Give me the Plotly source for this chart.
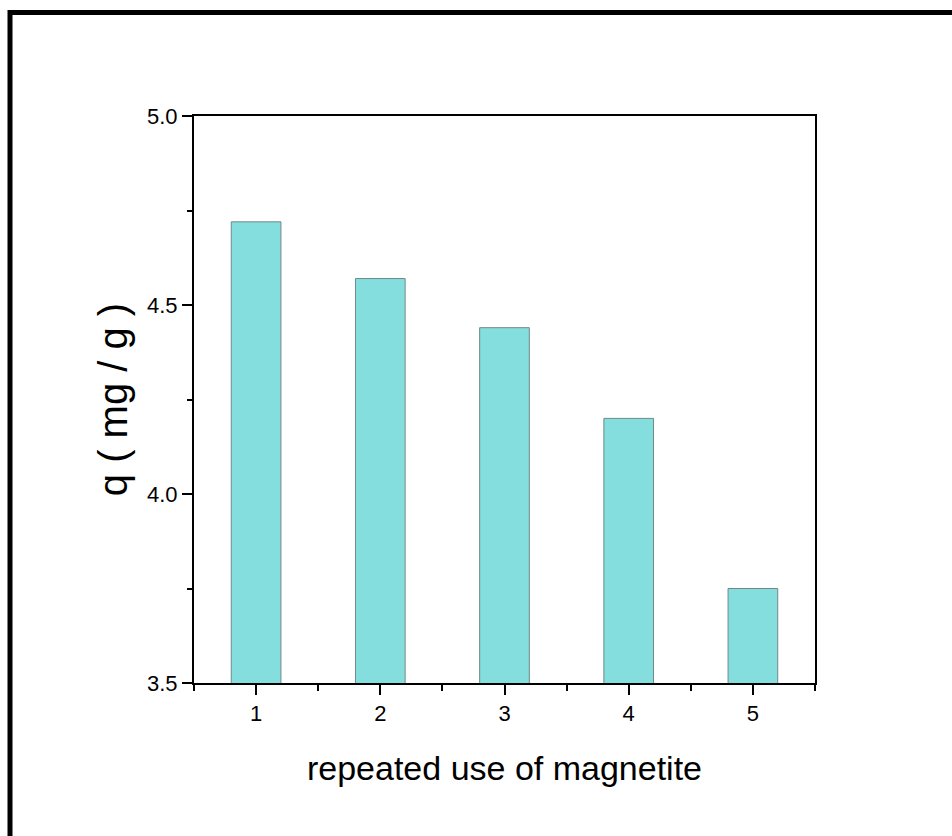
import plotly.graph_objects as go

# Adsorption capacity over successive reuse cycles of magnetite
cycles = [1, 2, 3, 4, 5]
q_values = [4.72, 4.57, 4.44, 4.20, 3.75]
y_ticks = [3.5, 4.0, 4.5, 5.0]
y_tick_text = ["3.5", "4.0", "4.5", "5.0"]

W, H = 952, 836
ML, MR, MT, MB = 194, 137, 116, 153
PW, PH = W - ML - MR, H - MT - MB


def px_to_paper_x(px):
    return (px - ML) / PW


def px_to_paper_y(py):
    return (H - MB - py) / PH


FONT = "Liberation Sans, Arial, sans-serif"

fig = go.Figure()
fig.add_trace(go.Bar(
    x=cycles,
    y=q_values,
    width=0.4,
    marker=dict(color="#84dede", line=dict(color="#728888", width=1)),
    showlegend=False,
))

fig.update_layout(
    width=W,
    height=H,
    margin=dict(l=ML, r=MR, t=MT, b=MB, pad=0),
    paper_bgcolor="white",
    plot_bgcolor="white",
    font=dict(family=FONT, color="black"),
    xaxis=dict(
        range=[0.5, 5.5],
        tickmode="array",
        tickvals=cycles,
        ticktext=[str(c) for c in cycles],
        ticks="outside",
        ticklen=10,
        tickwidth=2,
        tickcolor="black",
        tickfont=dict(size=22, family=FONT),
        minor=dict(tick0=0.5, dtick=1, ticks="outside", ticklen=6,
                   tickwidth=2, tickcolor="black", showgrid=False),
        showline=True,
        linecolor="black",
        linewidth=2,
        mirror=True,
        showgrid=False,
        zeroline=False,
        title=dict(text="repeated use of magnetite",
                   font=dict(size=34, family=FONT), standoff=31),
    ),
    yaxis=dict(
        range=[3.5, 5.0],
        tickmode="array",
        tickvals=y_ticks,
        ticktext=y_tick_text,
        ticks="outside",
        ticklen=10,
        tickwidth=2,
        tickcolor="black",
        tickfont=dict(size=22, family=FONT),
        minor=dict(tick0=3.75, dtick=0.5, ticks="outside", ticklen=5,
                   tickwidth=2, tickcolor="black", showgrid=False),
        showline=True,
        linecolor="black",
        linewidth=2,
        mirror=True,
        showgrid=False,
        zeroline=False,
        title=dict(text="q ( mg / g )",
                   font=dict(size=40, family=FONT), standoff=7),
    ),
    shapes=[
        # outer frame: left and top edges
        dict(type="line", xref="paper", yref="paper",
             x0=px_to_paper_x(10), x1=px_to_paper_x(10),
             y0=px_to_paper_y(H + 20), y1=px_to_paper_y(10),
             line=dict(color="black", width=5)),
        dict(type="line", xref="paper", yref="paper",
             x0=px_to_paper_x(8), x1=px_to_paper_x(W + 20),
             y0=px_to_paper_y(12.5), y1=px_to_paper_y(12.5),
             line=dict(color="black", width=5)),
    ],
)

fig.write_html("out.html")
